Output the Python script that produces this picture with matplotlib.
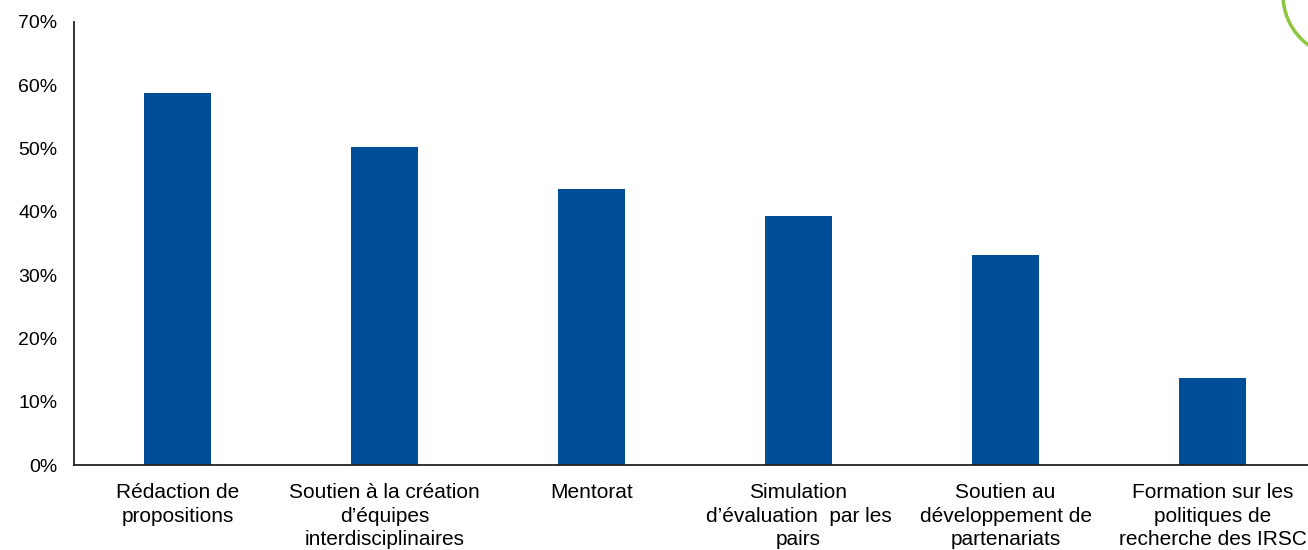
import matplotlib
matplotlib.use('Agg')
import matplotlib.pyplot as plt
from matplotlib.patches import Ellipse

categories = [
    'Rédaction de\npropositions',
    'Soutien à la création\nd\u2019équipes\ninterdisciplinaires',
    'Mentorat',
    'Simulation\nd\u2019évaluation  par les\npairs',
    'Soutien au\ndéveloppement de\npartenariats',
    'Formation sur les\npolitiques de\nrecherche des IRSC',
]
values = [58.8, 50.2, 43.6, 39.3, 33.2, 13.8]
yticks = [0, 10, 20, 30, 40, 50, 60, 70]

plt.rcParams['font.family'] = ['Liberation Sans', 'DejaVu Sans']

fig = plt.figure(figsize=(13.08, 5.5), dpi=100)
ax = fig.add_axes([74 / 1308, 1 - 465 / 550, 1242 / 1308, 443 / 550])

x = range(len(categories))
ax.bar(x, values, width=0.32, color='#004E98', zorder=2)

ax.set_xlim(-0.5, len(categories) - 0.5)
ax.set_ylim(0, 70)
ax.set_yticks(yticks)
ax.set_yticklabels([f'{v}%' for v in yticks], fontsize=14)
ax.set_xticks(list(x))
ax.set_xticklabels(categories, fontsize=15, linespacing=1.3)
ax.tick_params(axis='y', length=0, pad=12)
ax.tick_params(axis='x', length=0, pad=13)

for s in ['top', 'right']:
    ax.spines[s].set_visible(False)
for s in ['left', 'bottom']:
    ax.spines[s].set_color('#222222')
    ax.spines[s].set_linewidth(1.3)

# partial green circle in the top-right corner
circ = Ellipse((1345 / 1308, 1 - (-5) / 550), 124 / 1308, 124 / 550,
               transform=fig.transFigure, fill=False, edgecolor='#8DC63F',
               linewidth=2.5, clip_on=False)
fig.patches.append(circ)

fig.savefig('out.png', dpi=100)
